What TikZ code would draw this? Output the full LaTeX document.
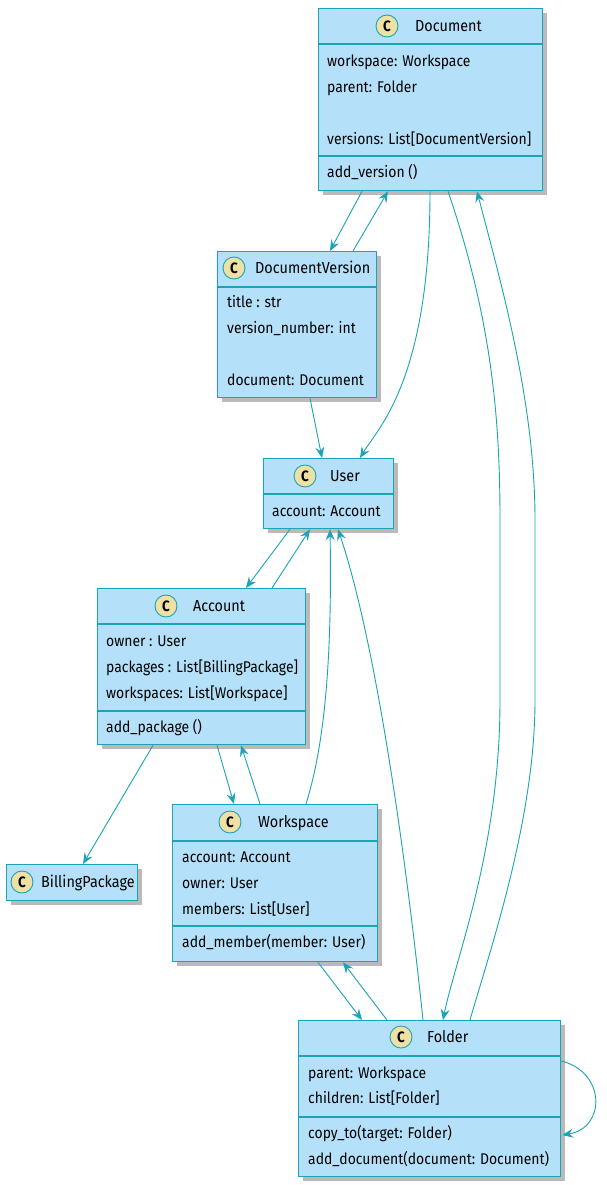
\documentclass[tikz,border=0pt]{standalone}
\usepackage{fontspec}
\setmainfont{Fira Sans}[FakeStretch=0.9]
\usetikzlibrary{shadows,arrows.meta,calc}
\definecolor{boxfill}{HTML}{B4E1F9}
\definecolor{boxline}{HTML}{1BA3B6}
\definecolor{circfill}{HTML}{EFE1A4}
\tikzset{
  classbox/.style={draw=boxline, line width=1.3pt, fill=boxfill, anchor=north west, inner sep=0pt,
    drop shadow={shadow xshift=4pt, shadow yshift=-4pt, fill=black!45, opacity=0.6}},
  divider/.style={draw=boxline, line width=1.1pt},
  member/.style={anchor=mid west, inner sep=0pt, yshift=-3pt, text=black, font=\fontsize{15.5}{18}\selectfont},
  cname/.style={anchor=mid west, inner sep=0pt, yshift=-3pt, text=black, font=\fontsize{16}{20}\selectfont},
  cicon/.style={circle, draw=boxline, line width=0.9pt, fill=circfill, minimum size=22pt, inner sep=0pt,
    font=\fontsize{15}{15}\bfseries\selectfont},
  link/.style={draw=boxline, line width=0.9pt, -{Stealth[length=11pt,width=9pt,inset=4pt]}},
}
\begin{document}
\begin{tikzpicture}[x=1pt,y=-1pt]
\fill[white] (0,0) rectangle (606,1185);
\useasboundingbox (0,0) rectangle (606,1185);

% ---------- Document
\node[classbox, minimum width=224pt, minimum height=182pt] (doc) at (318,8) {};
\draw[divider] ($(doc.north west)+(0,36)$) -- ($(doc.north east)+(0,36)$);
\draw[divider] ($(doc.north west)+(0,148)$) -- ($(doc.north east)+(0,148)$);
\node[cicon] (docC) at (387,26) {C};
\node[cname] (docN) at (415,26) {Document};
\node[member] (docA1) at (327,61) {workspace: Workspace};
\node[member] (docA2) at (327,87) {parent: Folder};
\node[member] (docA3) at (327,139) {versions: List[DocumentVersion]};
\node[member] (docM1) at (327,172) {add\_version ()};

% ---------- DocumentVersion
\node[classbox, minimum width=159pt, minimum height=146pt] (dv) at (217,251) {};
\draw[divider] ($(dv.north west)+(0,36)$) -- ($(dv.north east)+(0,36)$);
\node[cicon] (dvC) at (234,268) {C};
\node[cname] (dvN) at (255,268) {DocumentVersion};
\node[member] (dvA1) at (227,302) {title : str};
\node[member] (dvA2) at (227,328) {version\_number: int};
\node[member] (dvA3) at (227,380) {document: Document};

% ---------- User
\node[classbox, minimum width=130pt, minimum height=70pt] (user) at (263,458) {};
\draw[divider] ($(user.north west)+(0,36)$) -- ($(user.north east)+(0,36)$);
\node[cicon] (userC) at (305,476) {C};
\node[cname] (userN) at (330,476) {User};
\node[member] (userA1) at (272,511) {account: Account};

% ---------- Account
\node[classbox, minimum width=208pt, minimum height=156pt] (acc) at (97,588) {};
\draw[divider] ($(acc.north west)+(0,36)$) -- ($(acc.north east)+(0,36)$);
\draw[divider] ($(acc.north west)+(0,123)$) -- ($(acc.north east)+(0,123)$);
\node[cicon] (accC) at (166,606) {C};
\node[cname] (accN) at (193,606) {Account};
\node[member] (accA1) at (106,641) {owner : User};
\node[member] (accA2) at (106,667) {packages : List[BillingPackage]};
\node[member] (accA3) at (106,693) {workspaces: List[Workspace]};
\node[member] (accM1) at (106,727) {add\_package ()};

% ---------- BillingPackage
\node[classbox, minimum width=131pt, minimum height=36pt] (bp) at (6,864) {};
\node[cicon] (bpC) at (22,882) {C};
\node[cname] (bpN) at (41,882) {BillingPackage};

% ---------- Workspace
\node[classbox, minimum width=205pt, minimum height=157pt] (ws) at (172,804) {};
\draw[divider] ($(ws.north west)+(0,37)$) -- ($(ws.north east)+(0,37)$);
\draw[divider] ($(ws.north west)+(0,122)$) -- ($(ws.north east)+(0,122)$);
\node[cicon] (wsC) at (230,822) {C};
\node[cname] (wsN) at (258,822) {Workspace};
\node[member] (wsA1) at (182,857) {account: Account};
\node[member] (wsA2) at (182,883) {owner: User};
\node[member] (wsA3) at (182,909) {members: List[User]};
\node[member] (wsM1) at (182,942) {add\_member(member: User)};

% ---------- Folder
\node[classbox, minimum width=262pt, minimum height=156pt] (fold) at (298,1020) {};
\draw[divider] ($(fold.north west)+(0,36)$) -- ($(fold.north east)+(0,36)$);
\draw[divider] ($(fold.north west)+(0,97)$) -- ($(fold.north east)+(0,97)$);
\node[cicon] (foldC) at (401,1037) {C};
\node[cname] (foldN) at (427,1037) {Folder};
\node[member] (foldA1) at (308,1073) {parent: Workspace};
\node[member] (foldA2) at (308,1098) {children: List[Folder]};
\node[member] (foldM1) at (308,1133) {copy\_to(target: Folder)};
\node[member] (foldM2) at (308,1159) {add\_document(document: Document)};

% ---------- connectors
\draw[link] ($(doc.south west)+(44,0)$) -- ($(dv.north west)+(113,0)$);
\draw[link] ($(dv.north west)+(136,0)$) -- ($(doc.south west)+(70,0)$);
\draw[link] ($(doc.south west)+(112,0)$) .. controls (430,380) and (378,428) .. ($(user.north west)+(97,0)$);
\draw[link] ($(dv.south west)+(93,0)$) -- ($(user.north west)+(59,0)$);
\draw[link] ($(doc.south west)+(130,0)$) .. controls (492,320) and (500,420) .. (500,520) -- (500,700)
   .. controls (500,850) and (455,960) .. ($(fold.north west)+(145,0)$);
\draw[link] ($(fold.north west)+(172,0)$) .. controls (490,950) and (535,820) .. (535,700) -- (535,520)
   .. controls (535,400) and (500,280) .. ($(doc.south west)+(159,0)$);
\draw[link] ($(user.south west)+(27,0)$) -- ($(acc.north west)+(149,0)$);
\draw[link] ($(acc.north west)+(175,0)$) -- ($(user.south west)+(47,0)$);
\draw[link] ($(ws.north west)+(134,0)$) .. controls (326,740) and (332,650) .. ($(user.south west)+(67,0)$);
\draw[link] ($(fold.north west)+(125,0)$) .. controls (402,820) and (372,630) .. ($(user.south west)+(75,0)$);
\draw[link] ($(acc.south west)+(56,0)$) -- ($(bp.north west)+(77,0)$);
\draw[link] ($(acc.south west)+(120,0)$) -- ($(ws.north west)+(62,0)$);
\draw[link] ($(ws.north west)+(88,0)$) -- ($(acc.south west)+(144,0)$);
\draw[link] ($(ws.south west)+(146,0)$) -- ($(fold.north west)+(64,0)$);
\draw[link] ($(fold.north west)+(89,0)$) -- ($(ws.south west)+(171,0)$);
\draw[link] ($(fold.north east)+(0,41)$) .. controls (606,1072) and (606,1128) .. ($(fold.north east)+(1,115)$);
\end{tikzpicture}
\end{document}
